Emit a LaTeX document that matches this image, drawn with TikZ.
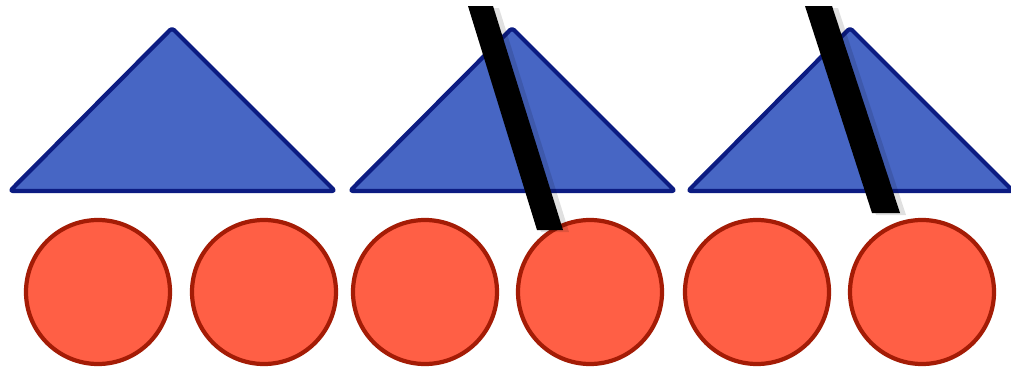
\documentclass[tikz,border=0pt]{standalone}
\begin{document}
\begin{tikzpicture}[x=1pt,y=-1pt,
  tri/.style={fill=triblue,draw=tridark,line width=4.2pt,line join=round,rounded corners=3pt},
  ball/.style={fill=ballred,draw=balldark,line width=4.2pt},
  bar/.style={fill=black},
  barshadow/.style={fill=black,opacity=0.12}]
\definecolor{triblue}{HTML}{4766C4}
\definecolor{tridark}{HTML}{0C1C82}
\definecolor{ballred}{HTML}{FF5F45}
\definecolor{balldark}{HTML}{A41C06}
\useasboundingbox (0,0) rectangle (1011,370);
\fill[white] (0,0) rectangle (1011,370);
% triangles
\foreach \dx in {0,340,678} {
  \draw[tri] (10+\dx,191) -- (172+\dx,28) -- (335+\dx,191) -- cycle;
}
% circles
\foreach \cx in {98,264,425,590,757,922} {
  \draw[ball] (\cx,292) circle (72);
}
% bars with soft shadow
\fill[barshadow] (472,8) -- (499,8) -- (569,232) -- (541,232) -- cycle;
\fill[barshadow] (809,8) -- (838,8) -- (906,215) -- (876,215) -- cycle;
\fill[bar] (468,6) -- (493,6) -- (563,230) -- (537,230) -- cycle;
\fill[bar] (805,6) -- (832,6) -- (900,213) -- (872,213) -- cycle;
\end{tikzpicture}
\end{document}
